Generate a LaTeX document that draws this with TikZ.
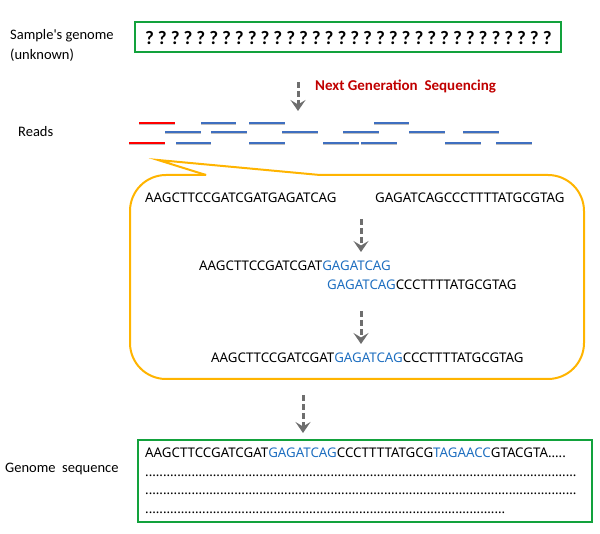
\documentclass[tikz,border=0pt]{standalone}
\usepackage{fontspec}
\setmainfont{Carlito}
\newfontfamily\seqfont{Noto Sans}
\usetikzlibrary{arrows.meta}
\definecolor{boxgreen}{HTML}{12A23C}
\definecolor{calloutc}{HTML}{FFB400}
\definecolor{readblue}{HTML}{3F6FC0}
\definecolor{readred}{HTML}{FF0000}
\definecolor{seqblue}{HTML}{1F6FC0}
\definecolor{ngsred}{HTML}{C00000}
\definecolor{arrgray}{HTML}{6E6E6E}
\tikzset{
  lbl/.style={anchor=base west,inner sep=0pt,font=\fontsize{14.5}{18}\selectfont},
  seq/.style={anchor=base west,inner sep=0pt,font=\seqfont\fontsize{13.3}{16}\selectfont},
  gbox/.style={draw=boxgreen,line width=2pt},
  callout/.style={draw=calloutc,line width=2pt},
  flowarrow/.style={draw=arrgray,line width=3pt,dash pattern=on 6pt off 3pt,
     -{Stealth[length=11pt,width=15pt,inset=4.5pt]}},
  readline/.style={draw=readblue,line width=1.8pt},
  redread/.style={draw=readred,line width=1.8pt},
  readshadow/.style={draw=black!25,line width=1.2pt},
}
\newcommand{\bl}[1]{\textcolor{seqblue}{#1}}
\newcommand{\dotline}[1]{\hbox to #1{\leaders\hbox{.}\hfill}}
\begin{document}
\begin{tikzpicture}[x=1pt,y=-1pt]
\useasboundingbox (0,0) rectangle (600,534);
% top labels
\node[lbl] (samp) at (10,40) {Sample\textquotesingle s genome};
\node[lbl] (unk) at (10,60) {(unknown)};
% unknown genome box
\node[gbox,minimum width=426pt,minimum height=30pt,inner sep=0pt] (qbox) at (348,37) {};
\node[inner sep=0pt,font=\bfseries\fontsize{19}{22}\selectfont] (qs) at (348.5,38)
 {\spaceskip=2.6pt ? ? ? ? ? ? ? ? ? ? ? ? ? ? ? ? ? ? ? ? ? ? ? ? ? ? ? ? ? ? ? ?};
% NGS arrow
\coordinate (a1s) at (298,82);
\coordinate (a1e) at (298,111);
\draw[flowarrow] (a1s) -- (a1e);
\node[anchor=base west,inner sep=0pt,text=ngsred,font=\bfseries\fontsize{15}{18}\selectfont] (ngs) at (315,91) {Next Generation\ \ Sequencing};
% reads
\node[lbl] (reads) at (18,137) {Reads};
\foreach \a/\b/\y in {201/236/122.7, 249/285/122.7, 374/409/122.7,
  165/201/132.3, 211/247/132.3, 282/318/132.3, 343/379/132.3, 409/445/132.3, 463/499/132.3,
  176/211/142.7, 249/285/142.7, 323/359/142.7, 361/397/142.7, 445/481/142.7, 496/532/142.7}{
  \draw[readshadow] (\a,\y+1.3) -- (\b,\y+1.3);
  \draw[readline] (\a,\y) -- (\b,\y);
}
\foreach \a/\b/\y in {139/175/122.7, 129/165/142.7}{
  \draw[readshadow] (\a,\y+1.3) -- (\b,\y+1.3);
  \draw[redread] (\a,\y) -- (\b,\y);
}
% callout
\draw[callout,rounded corners=36pt] (206,175) -- (130,175) -- (130,379) -- (584,379) -- (584,175) -- (320,175);
\draw[callout,line join=miter] (320,175) -- (158,160) -- (206,175);
% callout content
\node[seq] (r1) at (145,203) {AAGCTTCCGATCGATGAGATCAG};
\node[seq] (r2) at (375,203) {GAGATCAGCCCTTTTATGCGTAG};
\coordinate (a2s) at (361,219);
\coordinate (a2e) at (361,252);
\draw[flowarrow] (a2s) -- (a2e);
\node[seq] (o1) at (199,271) {AAGCTTCCGATCGAT\bl{GAGATCAG}};
\node[seq] (o2) at (327,290) {\bl{GAGATCAG}CCCTTTTATGCGTAG};
\coordinate (a3s) at (361,311);
\coordinate (a3e) at (361,344);
\draw[flowarrow] (a3s) -- (a3e);
\node[seq] (m1) at (211,363) {AAGCTTCCGATCGAT\bl{GAGATCAG}CCCTTTTATGCGTAG};
% final arrow
\coordinate (a4s) at (303,395);
\coordinate (a4e) at (303,433);
\draw[flowarrow] (a4s) -- (a4e);
% genome sequence
\node[lbl] (gs) at (5,473) {Genome\ \ sequence};
\draw[gbox] (138,440) rectangle (592,522);
\node[seq] (g1) at (145,458) {AAGCTTCCGATCGAT\bl{GAGATCAG}CCCTTTTATGCG\bl{TAGAACC}GTACGTA.....};
\node[seq] (g2) at (145,476) {\dotline{433pt}};
\node[seq] (g3) at (145,495) {\dotline{433pt}};
\node[seq] (g4) at (145,513) {\dotline{362pt}};
\end{tikzpicture}
\end{document}
